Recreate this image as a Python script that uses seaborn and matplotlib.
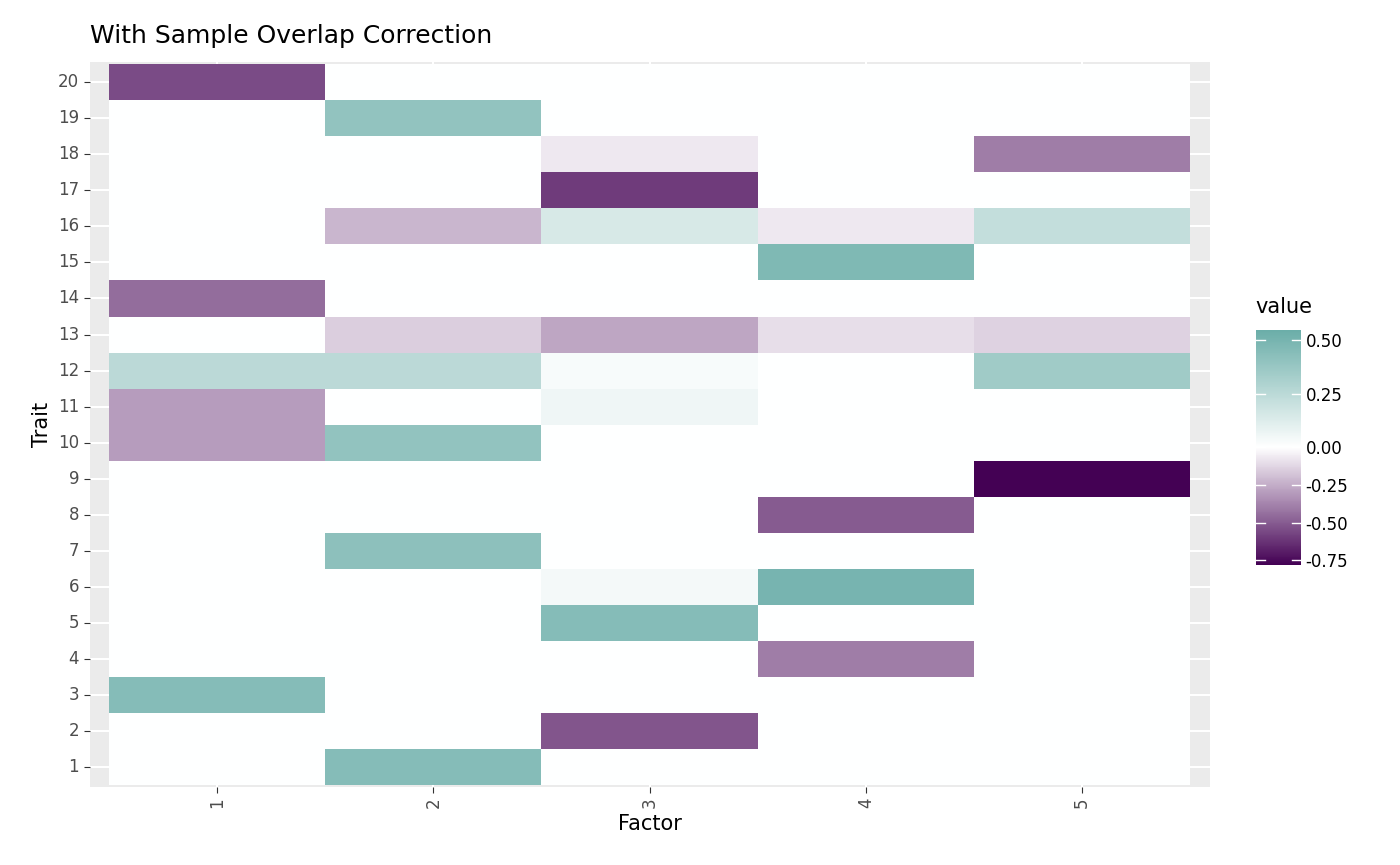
import numpy as np
import pandas as pd
import matplotlib
matplotlib.use("Agg")
import matplotlib.pyplot as plt
import seaborn as sns
from matplotlib.colors import LinearSegmentedColormap, TwoSlopeNorm

factors = [1, 2, 3, 4, 5]
traits = list(range(1, 21))

# non-zero loadings: trait -> value, per factor
f1 = {20: -0.55, 14: -0.45, 12: 0.25, 11: -0.3, 10: -0.3, 3: 0.45}
f2 = {19: 0.4, 16: -0.22, 13: -0.15, 12: 0.25, 10: 0.4, 7: 0.42, 1: 0.45}
f3 = {18: -0.07, 17: -0.6, 16: 0.15, 13: -0.27, 12: 0.03, 11: 0.06, 6: 0.04, 5: 0.45, 2: -0.52}
f4 = {16: -0.07, 15: 0.47, 13: -0.1, 8: -0.5, 6: 0.5, 4: -0.4}
f5 = {18: -0.4, 16: 0.22, 13: -0.14, 12: 0.35, 9: -0.78}

cols = [f1, f2, f3, f4, f5]
df = pd.DataFrame({f: [c.get(t, 0.0) for t in traits[::-1]] for f, c in zip(factors, cols)},
                  index=traits[::-1])

cmap = LinearSegmentedColormap.from_list("pw", ["#440154", "#ffffff", "#6aada8"])
norm = TwoSlopeNorm(vmin=-0.78, vcenter=0, vmax=0.55)

fig = plt.figure(figsize=(14, 8.65), dpi=100)
ax = fig.add_axes([0.064, 0.090, 0.8, 0.838])
cax = fig.add_axes([0.897, 0.347, 0.032, 0.272])
ax.set_facecolor("#EBEBEB")
ax.set_axisbelow(True)

sns.heatmap(df, cmap=cmap, norm=norm, ax=ax, cbar_ax=cax, zorder=2)

ax.set_xlim(-0.09, 5.09)
ax.set_ylim(20.05, -0.05)
ax.set_xticks(np.arange(5) + 0.5)
ax.set_xticklabels([str(f) for f in factors], rotation=90, fontsize=12, color="#4d4d4d")
ax.set_yticks(np.arange(20) + 0.5)
ax.set_yticklabels([str(t) for t in traits[::-1]], rotation=0, fontsize=12, color="#4d4d4d")
ax.grid(True, color="white", lw=1.5, zorder=0)
ax.tick_params(length=4, color="#333333")
for s in ax.spines.values():
    s.set_visible(False)
ax.set_xlabel("Factor", fontsize=15)
ax.set_ylabel("Trait", fontsize=15)
ax.set_title("With Sample Overlap Correction", fontsize=18, loc="left", x=0.0, pad=14)

cax.set_title("value", fontsize=15, loc="left", pad=12)
cb = ax.collections[0].colorbar
cb.set_ticks([-0.75, -0.5, -0.25, 0, 0.25, 0.5])
cb.set_ticklabels(["-0.75", "-0.50", "-0.25", "0.00", "0.25", "0.50"])
cb.outline.set_visible(False)
cax.tick_params(labelsize=12, length=0)
for v in [-0.75, -0.5, -0.25, 0, 0.25, 0.5]:
    cax.axhline(v, xmin=0, xmax=0.2, color="white", lw=1)
    cax.axhline(v, xmin=0.8, xmax=1, color="white", lw=1)

fig.savefig("out.png")
